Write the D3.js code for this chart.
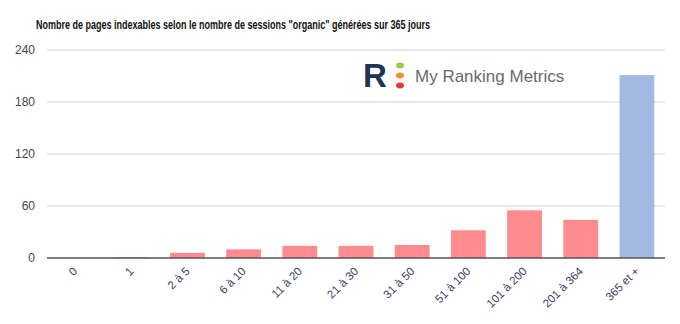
<!DOCTYPE html>
<html>
<head>
<meta charset="utf-8">
<script src="https://cdn.jsdelivr.net/npm/d3@7"></script>
<style>
  body { margin: 0; background: #fff; }
  text { font-family: "Liberation Sans", Arial, sans-serif; }
</style>
</head>
<body>
<div id="chart"></div>
<script>
(function() {

  var categories = ['0', '1', '2 à 5', '6 à 10', '11 à 20', '21 à 30', '31 à 50', '51 à 100', '101 à 200', '201 à 364', '365 et +']
  var pageCounts = [0, 1, 6, 10, 14, 14, 15, 32, 55, 44, 211]
  var yTicks = [0, 60, 120, 180, 240]

  var width = 680, height = 324
  var margin = { top: 50, left: 47, right: 15, bottom: 66 }

  var svg = d3.select("#chart")
      .append("svg")
      .attr("width", width)
      .attr("height", height)

  var xScale = d3.scaleBand()
    .domain(categories)
    .range([margin.left, width - margin.right])
    .paddingInner(0.38)
    .paddingOuter(0.19)

  var yScale = d3.scaleLinear()
    .domain([0, 240])
    .range([height - margin.bottom, margin.top])

  // gridlines
  svg.selectAll(".grid")
    .data(yTicks.filter(function(d) { return d > 0 }))
    .enter().append("line")
    .attr("class", "grid")
    .attr("x1", margin.left)
    .attr("x2", width - margin.right)
    .attr("y1", function(d) { return yScale(d) })
    .attr("y2", function(d) { return yScale(d) })
    .attr("stroke", "#e2e2e2")
    .attr("stroke-width", 1.5)

  // y labels
  svg.selectAll(".y-label")
    .data(yTicks)
    .enter().append("text")
    .attr("class", "y-label")
    .attr("x", 35)
    .attr("y", function(d) { return yScale(d) + 4 })
    .attr("text-anchor", "end")
    .attr("font-size", "12px")
    .attr("fill", "#444")
    .text(function(d) { return d })

  // logo
  var logo = svg.append("g").attr("transform", "translate(363,63)")
  logo.append("rect").attr("x", -4).attr("y", -4).attr("width", 210).attr("height", 32).attr("fill", "#fff")
  logo.append("text")
    .attr("x", 0).attr("y", 24)
    .attr("font-size", "33px")
    .attr("font-weight", "bold")
    .attr("fill", "#1d3456")
    .text("R")
  var dotColors = ['#9dcc3f', '#f2913a', '#e63a36']
  logo.selectAll(".dot")
    .data(dotColors)
    .enter().append("ellipse")
    .attr("cx", 37)
    .attr("cy", function(d, i) { return 2.5 + i * 10 })
    .attr("rx", 4)
    .attr("ry", 3)
    .attr("fill", function(d) { return d })
  logo.append("text")
    .attr("x", 52).attr("y", 19)
    .attr("font-size", "17px")
    .attr("fill", "#6a6a6a")
    .text("My Ranking Metrics")

  // bars
  svg.selectAll(".bar")
    .data(pageCounts)
    .enter().append("rect")
    .attr("class", "bar")
    .attr("x", function(d, i) { return xScale(categories[i]) })
    .attr("width", xScale.bandwidth())
    .attr("y", function(d) { return yScale(d) })
    .attr("height", function(d) { return yScale(0) - yScale(d) })
    .attr("fill", function(d, i) { return i === categories.length - 1 ? '#a2b9e4' : '#ff8b8e' })

  // baseline
  svg.append("line")
    .attr("x1", margin.left)
    .attr("x2", width - margin.right)
    .attr("y1", yScale(0))
    .attr("y2", yScale(0))
    .attr("stroke", "#555")
    .attr("stroke-width", 1.3)

  // x labels
  svg.selectAll(".x-label")
    .data(categories)
    .enter().append("text")
    .attr("class", "x-label")
    .attr("text-anchor", "end")
    .attr("font-size", "11.5px")
    .attr("fill", "#3d4166")
    .attr("transform", function(d) {
      return "translate(" + (xScale(d) + xScale.bandwidth() / 2 + 3) + "," + (yScale(0) + 14) + ") rotate(-45)"
    })
    .text(function(d) { return d })

  // title
  svg.append("text")
    .attr("x", 36)
    .attr("y", 29)
    .attr("font-size", "12.5px")
    .attr("font-weight", "bold")
    .attr("fill", "#111")
    .attr("textLength", 394)
    .attr("lengthAdjust", "spacingAndGlyphs")
    .text('Nombre de pages indexables selon le nombre de sessions "organic" générées sur 365 jours')

})();
</script>
</body>
</html>
